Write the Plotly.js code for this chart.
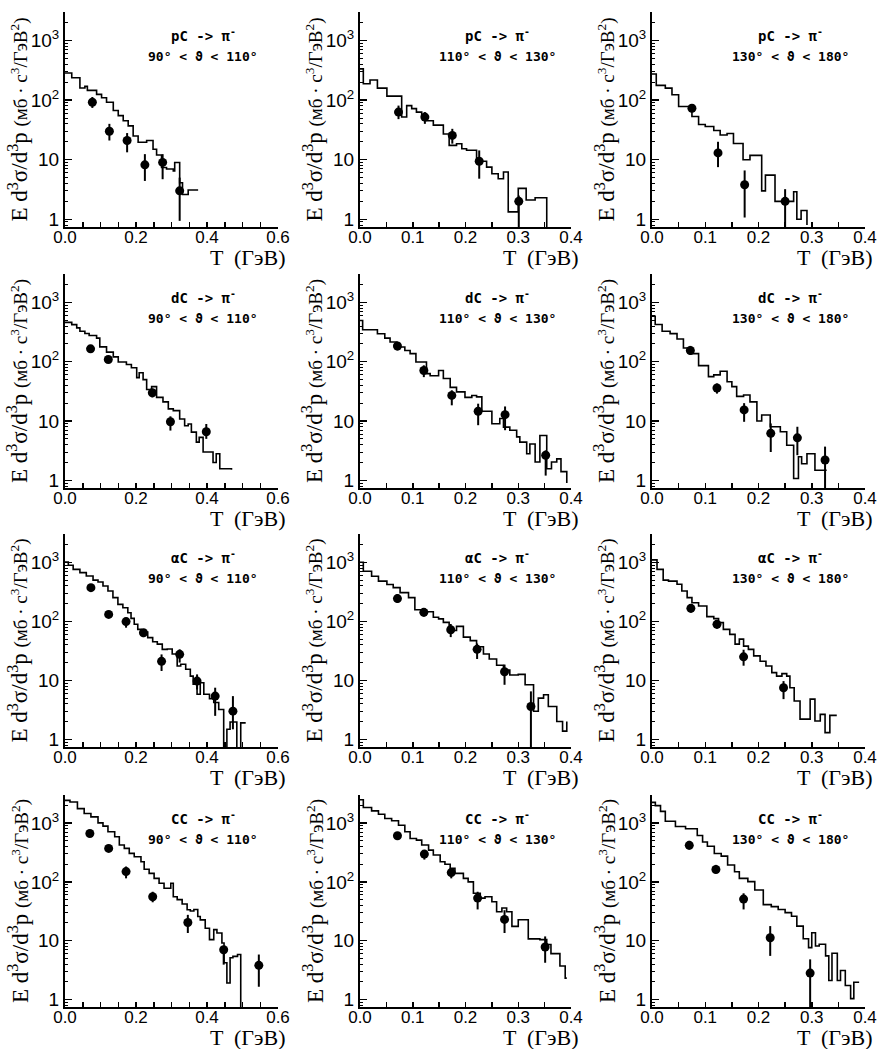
<!DOCTYPE html>
<html>
<head>
<meta charset="utf-8">
<script src="https://cdn.plot.ly/plotly-3.0.1.min.js"></script>
<style>body{margin:0;background:#fff}</style>
</head>
<body>
<div id="plot"></div>
<script>
// panel labels (rows: projectile, columns: angular cut)
var reactions = ["pC", "dC", "αC", "CC"];
var angleCuts = ["90° &lt; ϑ &lt; 110°", "110° &lt; ϑ &lt; 130°", "130° &lt; ϑ &lt; 180°"];

// y tick labels
var yTicks = [1, 10, 100, 1000];
var yTickText = ["1", "10", "10<sup>2</sup>", "10<sup>3</sup>"];

// simulated spectra: step edges (GeV) and level of each step (last = closing level)
var edges_pC_90 = [0, 0.019, 0.042, 0.056, 0.063, 0.089, 0.103, 0.117, 0.136, 0.150, 0.164, 0.178, 0.192, 0.206, 0.230, 0.248, 0.258, 0.272, 0.286, 0.305, 0.309, 0.323, 0.331, 0.347, 0.375];
var sim_pC_90 = [285, 238, 160, 170, 146, 125, 110, 92, 67, 55, 45, 37, 25, 19.6, 21, 15, 12, 7.4, 7.0, 6.5, 9.0, 4.1, 2.6, 3.1, 3.1];

var edges_pC_110 = [0, 0.0063, 0.019, 0.033, 0.051, 0.079, 0.0885, 0.098, 0.107, 0.117, 0.126, 0.139, 0.158, 0.169, 0.183, 0.193, 0.202, 0.221, 0.229, 0.240, 0.250, 0.262, 0.272, 0.281, 0.300, 0.315, 0.332, 0.354];
var sim_pC_110 = [335, 188, 218, 159, 117, 52, 81, 72, 63, 55, 45, 38, 27, 17.4, 18.5, 15.3, 14.4, 10.4, 9.4, 7.5, 5.8, 4.8, 6.2, 1.33, 3.3, 2.1, 2.3, 0.5];

var edges_pC_130 = [0, 0.008, 0.025, 0.0375, 0.050, 0.075, 0.0875, 0.100, 0.116, 0.128, 0.141, 0.153, 0.171, 0.184, 0.206, 0.213, 0.231, 0.266, 0.272, 0.280, 0.291];
var sim_pC_130 = [275, 177, 159, 123, 78, 53, 39, 36, 31, 26, 27.5, 18.7, 10, 11.8, 3.0, 5.5, 2.0, 2.9, 1.0, 1.4, 0.8];

var edges_dC_90 = [0, 0.019, 0.033, 0.042, 0.056, 0.068, 0.089, 0.098, 0.117, 0.136, 0.150, 0.173, 0.187, 0.202, 0.209, 0.220, 0.230, 0.244, 0.258, 0.276, 0.291, 0.305, 0.323, 0.337, 0.347, 0.356, 0.370, 0.378, 0.389, 0.417, 0.426, 0.436, 0.469];
var sim_dC_90 = [462, 423, 372, 326, 300, 277, 250, 178, 145, 121, 99, 90, 79, 54, 65, 50, 34, 38, 25, 21, 16, 15, 10.8, 8.3, 8.9, 6.5, 4.4, 5.3, 3.0, 2.0, 2.8, 1.57, 1.5];

var edges_dC_110 = [0, 0.005, 0.033, 0.047, 0.057, 0.070, 0.085, 0.095, 0.106, 0.126, 0.133, 0.149, 0.158, 0.171, 0.183, 0.199, 0.212, 0.221, 0.231, 0.250, 0.265, 0.272, 0.284, 0.297, 0.303, 0.316, 0.322, 0.332, 0.341, 0.354, 0.363, 0.373, 0.381, 0.392];
var sim_dC_110 = [497, 346, 296, 250, 215, 177, 155, 137, 99, 63, 58, 71, 52, 37, 31, 25, 27, 25.5, 14.6, 9, 11, 7.9, 7.0, 5.4, 4.4, 2.8, 4.1, 2.04, 5.7, 1.57, 2.04, 2.3, 1.4, 0.9];

var edges_dC_130 = [0, 0.006, 0.019, 0.034, 0.047, 0.059, 0.075, 0.0875, 0.106, 0.116, 0.128, 0.141, 0.150, 0.159, 0.172, 0.184, 0.197, 0.206, 0.222, 0.241, 0.253, 0.266, 0.275, 0.281, 0.291, 0.306, 0.328];
var sim_dC_130 = [585, 424, 327, 298, 242, 170, 137, 86, 56, 60, 69, 46, 38, 26, 27.5, 21, 10, 12.6, 8.0, 6.6, 3.9, 1.07, 2.5, 1.9, 2.8, 1.48, 1.48];

var edges_aC_90 = [0, 0.0093, 0.023, 0.042, 0.060, 0.079, 0.093, 0.107, 0.121, 0.135, 0.149, 0.163, 0.177, 0.186, 0.195, 0.205, 0.214, 0.225, 0.233, 0.247, 0.260, 0.274, 0.288, 0.302, 0.316, 0.326, 0.340, 0.353, 0.361, 0.372, 0.381, 0.391, 0.407, 0.419, 0.433, 0.447, 0.456, 0.465, 0.484, 0.495, 0.509];
var sim_aC_90 = [1014, 890, 760, 668, 587, 500, 464, 398, 327, 252, 194, 170, 140, 112, 89, 73, 63, 66, 53, 45, 41, 33.5, 34, 28, 17.5, 18.7, 15.4, 11.8, 8.6, 5.8, 9.1, 5.8, 4.9, 4.2, 3.2, 0.5, 1.48, 1.97, 0.5, 1.9, 1.9];

var edges_aC_110 = [0, 0.0063, 0.022, 0.035, 0.051, 0.063, 0.076, 0.092, 0.104, 0.117, 0.126, 0.139, 0.149, 0.158, 0.169, 0.183, 0.196, 0.209, 0.221, 0.234, 0.245, 0.259, 0.272, 0.284, 0.300, 0.313, 0.329, 0.338, 0.348, 0.357, 0.373, 0.384, 0.392];
var sim_aC_110 = [1000, 705, 582, 480, 422, 372, 306, 252, 157, 155, 145, 117, 110, 96, 70, 82, 54, 47, 37, 28, 23, 18, 14.9, 12.3, 12.6, 8.4, 3.0, 5.0, 5.7, 3.6, 2.0, 1.38, 2.0];

var edges_aC_130 = [0, 0.0094, 0.021, 0.031, 0.047, 0.056, 0.066, 0.075, 0.0875, 0.103, 0.116, 0.125, 0.134, 0.146, 0.156, 0.164, 0.172, 0.181, 0.191, 0.203, 0.214, 0.225, 0.234, 0.244, 0.253, 0.259, 0.267, 0.278, 0.297, 0.306, 0.316, 0.325, 0.334, 0.347];
var sim_aC_130 = [1100, 760, 500, 480, 424, 327, 252, 207, 182, 120, 111, 95, 73, 60, 41, 50, 38, 33.5, 26, 21, 17.5, 13.5, 11.8, 13, 11.8, 7.5, 4.45, 2.2, 4.8, 2.05, 2.65, 1.3, 2.55, 2.55];

var edges_CC_90 = [0, 0.014, 0.035, 0.054, 0.073, 0.093, 0.107, 0.121, 0.140, 0.153, 0.167, 0.181, 0.195, 0.214, 0.223, 0.237, 0.251, 0.265, 0.279, 0.298, 0.305, 0.316, 0.330, 0.344, 0.353, 0.363, 0.374, 0.381, 0.395, 0.407, 0.419, 0.428, 0.442, 0.448, 0.456, 0.465, 0.473, 0.486, 0.495];
var sim_CC_90 = [2450, 2300, 1770, 1460, 1280, 1014, 890, 713, 587, 424, 372, 306, 269, 221, 164, 140, 115, 95, 78, 95, 56, 50, 42, 33.5, 32, 34, 25.8, 22.6, 16.3, 10.4, 15.4, 13.5, 9.1, 4.2, 1.9, 5.1, 5.4, 5.8, 0.5];

var edges_CC_110 = [0, 0.0063, 0.022, 0.035, 0.047, 0.060, 0.073, 0.085, 0.095, 0.107, 0.117, 0.130, 0.139, 0.152, 0.161, 0.171, 0.180, 0.196, 0.205, 0.215, 0.228, 0.237, 0.250, 0.259, 0.269, 0.278, 0.288, 0.300, 0.319, 0.341, 0.354, 0.362, 0.379, 0.389, 0.392];
var sim_CC_110 = [2500, 1845, 1620, 1420, 1200, 1100, 925, 713, 550, 515, 424, 348, 287, 221, 200, 170, 140, 115, 100, 64, 53, 56, 46, 31, 36, 31, 17.5, 22.7, 10.7, 10.4, 8.6, 6.0, 3.7, 2.3, 2.3];

var edges_CC_130 = [0, 0.0063, 0.016, 0.025, 0.044, 0.063, 0.085, 0.095, 0.104, 0.117, 0.130, 0.142, 0.155, 0.164, 0.180, 0.193, 0.209, 0.224, 0.237, 0.250, 0.262, 0.272, 0.284, 0.294, 0.300, 0.307, 0.314, 0.326, 0.332, 0.338, 0.348, 0.354, 0.363, 0.373, 0.379, 0.389];
var sim_CC_130 = [2260, 1990, 1590, 1080, 880, 802, 617, 478, 404, 304, 275, 194, 149, 115, 101, 73, 41, 38, 34, 30, 26, 17.7, 10.8, 7.6, 13.6, 8.1, 8.7, 5.5, 2.1, 6.1, 2.1, 3.1, 1.72, 1.03, 1.96, 1.96];

// measured points: T, value, upper and lower end of error bar
var T_pC_90 = [0.077, 0.125, 0.175, 0.225, 0.275, 0.323];
var E_pC_90 = [92, 30, 21, 8.2, 9, 3.0];
var hi_pC_90 = [113, 40, 28, 12.4, 12.4, 5];
var lo_pC_90 = [74, 21, 13.3, 4.4, 4.7, 0.94];

var T_pC_110 = [0.073, 0.123, 0.175, 0.226, 0.301];
var E_pC_110 = [63, 52, 25.6, 9.4, 2.0];
var hi_pC_110 = [81, 63, 33, 14.3, 2.5];
var lo_pC_110 = [48, 40, 18.6, 4.8, 0.5];

var T_pC_130 = [0.075, 0.124, 0.174, 0.25];
var E_pC_130 = [73, 13, 3.8, 2.0];
var hi_pC_130 = [86, 20, 6.6, 3.2];
var lo_pC_130 = [63, 7.5, 1.07, 0.5];

var T_dC_90 = [0.072, 0.122, 0.246, 0.297, 0.398];
var E_dC_90 = [165, 109, 30, 9.7, 6.6];
var hi_dC_90 = [180, 124, 35, 12, 8.9];
var lo_dC_90 = [150, 96, 25, 6.9, 5];

var T_dC_110 = [0.071, 0.121, 0.174, 0.224, 0.275, 0.352];
var E_dC_110 = [184, 71, 27, 14.6, 12.8, 2.64];
var hi_dC_110 = [215, 87, 33, 19.6, 17.6, 3.2];
var lo_dC_110 = [155, 55, 18.4, 8.5, 7.0, 1.2];

var T_dC_130 = [0.072, 0.122, 0.173, 0.223, 0.273, 0.325];
var E_dC_130 = [155, 36, 15.4, 6.2, 5.2, 2.2];
var hi_dC_130 = [185, 43, 20, 9.1, 8, 3.7];
var lo_dC_130 = [130, 29, 9.7, 3.0, 2.65, 0.5];

var T_aC_90 = [0.073, 0.123, 0.172, 0.221, 0.272, 0.323, 0.372, 0.423, 0.473];
var E_aC_90 = [372, 131, 99, 64, 21, 27.6, 9.7, 5.4, 3.0];
var hi_aC_90 = [425, 150, 115, 74, 27.5, 33.5, 12.6, 7.5, 5.4];
var lo_aC_90 = [325, 115, 78, 54, 14.4, 20, 7, 2.5, 1.48];

var T_aC_110 = [0.071, 0.121, 0.172, 0.222, 0.274, 0.324];
var E_aC_110 = [243, 142, 72, 33.5, 14, 3.6];
var hi_aC_110 = [290, 165, 90, 42, 18.5, 6.5];
var lo_aC_110 = [205, 120, 54, 23, 8.4, 0.7];

var T_aC_130 = [0.073, 0.122, 0.172, 0.247];
var E_aC_130 = [166, 89, 25, 7.5];
var hi_aC_130 = [195, 105, 33, 9.7];
var lo_aC_130 = [140, 75, 17.7, 4.8];

var T_CC_90 = [0.07, 0.123, 0.172, 0.247, 0.346, 0.447, 0.546];
var E_CC_90 = [668, 372, 150, 56, 20.4, 7.0, 3.8];
var hi_CC_90 = [750, 420, 183, 68, 27.5, 8.0, 5.8];
var lo_CC_90 = [600, 330, 115, 45, 13.5, 3.9, 1.64];

var T_CC_110 = [0.071, 0.122, 0.173, 0.223, 0.274, 0.351];
var E_CC_110 = [610, 298, 144, 53, 23, 7.8];
var hi_CC_110 = [690, 350, 170, 68, 33, 11.8];
var lo_CC_110 = [520, 240, 115, 34, 13.5, 4.2];

var T_CC_130 = [0.07, 0.12, 0.172, 0.222, 0.297];
var E_CC_130 = [420, 163, 51, 11.2, 2.8];
var hi_CC_130 = [500, 195, 64, 17.7, 4.8];
var lo_CC_130 = [355, 140, 34, 5.5, 0.5];

var panels = [
  [edges_pC_90, sim_pC_90, T_pC_90, E_pC_90, hi_pC_90, lo_pC_90],
  [edges_pC_110, sim_pC_110, T_pC_110, E_pC_110, hi_pC_110, lo_pC_110],
  [edges_pC_130, sim_pC_130, T_pC_130, E_pC_130, hi_pC_130, lo_pC_130],
  [edges_dC_90, sim_dC_90, T_dC_90, E_dC_90, hi_dC_90, lo_dC_90],
  [edges_dC_110, sim_dC_110, T_dC_110, E_dC_110, hi_dC_110, lo_dC_110],
  [edges_dC_130, sim_dC_130, T_dC_130, E_dC_130, hi_dC_130, lo_dC_130],
  [edges_aC_90, sim_aC_90, T_aC_90, E_aC_90, hi_aC_90, lo_aC_90],
  [edges_aC_110, sim_aC_110, T_aC_110, E_aC_110, hi_aC_110, lo_aC_110],
  [edges_aC_130, sim_aC_130, T_aC_130, E_aC_130, hi_aC_130, lo_aC_130],
  [edges_CC_90, sim_CC_90, T_CC_90, E_CC_90, hi_CC_90, lo_CC_90],
  [edges_CC_110, sim_CC_110, T_CC_110, E_CC_110, hi_CC_110, lo_CC_110],
  [edges_CC_130, sim_CC_130, T_CC_130, E_CC_130, hi_CC_130, lo_CC_130]
];

var W = 877, H = 1049;
var colPx = [[65, 278], [360, 571], [652, 865]];
var rowPx = [[12, 227], [274, 488], [534, 747], [795, 1007]];
var xMax = [0.6, 0.4, 0.4];
var xStep = [0.2, 0.1, 0.1];

var minorY = [];
[0.1, 1, 10, 100, 1000].forEach(function (d) {
  for (var k = 2; k <= 9; k++) minorY.push(k * d);
});

var sans = "Liberation Sans, Arial, sans-serif";
var serif = "Liberation Serif, Times New Roman, serif";
var mono = "DejaVu Sans Mono, monospace";

var traces = [];
var layout = {
  width: W, height: H,
  margin: {l: 0, r: 0, t: 0, b: 0},
  paper_bgcolor: "white", plot_bgcolor: "white",
  showlegend: false,
  annotations: []
};

panels.forEach(function (p, i) {
  var r = Math.floor(i / 3), c = i % 3;
  var n = i === 0 ? "" : String(i + 1);

  traces.push({
    x: p[0], y: p[1], xaxis: "x" + n, yaxis: "y" + n,
    type: "scatter", mode: "lines",
    line: {shape: "hv", color: "black", width: 1.6}
  });
  traces.push({
    x: p[2], y: p[3], xaxis: "x" + n, yaxis: "y" + n,
    type: "scatter", mode: "markers",
    marker: {color: "black", size: 9},
    error_y: {
      type: "data", symmetric: false,
      array: p[4].map(function (h, j) { return h - p[3][j]; }),
      arrayminus: p[5].map(function (l, j) { return p[3][j] - l; }),
      color: "black", thickness: 2, width: 0
    }
  });

  layout["xaxis" + n] = {
    domain: [colPx[c][0] / W, colPx[c][1] / W], anchor: "y" + n,
    range: [0, xMax[c]], tick0: 0, dtick: xStep[c], tickformat: ".1f",
    showline: true, linecolor: "black", linewidth: 2,
    ticks: "inside", ticklen: 5, tickwidth: 1.5, tickcolor: "black",
    ticklabelstandoff: -6,
    showgrid: false, zeroline: false,
    tickfont: {family: sans, size: 17, color: "black"},
    minor: {ticks: "inside", ticklen: 5, tickwidth: 1.5, tickcolor: "black", tick0: 0, dtick: 0.05, showgrid: false}
  };
  layout["yaxis" + n] = {
    domain: [1 - rowPx[r][1] / H, 1 - rowPx[r][0] / H], anchor: "x" + n,
    type: "log", range: [-0.13, 3.48],
    tickmode: "array", tickvals: yTicks, ticktext: yTickText,
    showline: true, linecolor: "black", linewidth: 2,
    ticks: "inside", ticklen: 7, tickwidth: 1.5, tickcolor: "black",
    showgrid: false, zeroline: false,
    tickfont: {family: sans, size: 19, color: "black"},
    minor: {ticks: "inside", ticklen: 3, tickwidth: 1, tickcolor: "black", tickmode: "array", tickvals: minorY, showgrid: false}
  };

  var xr = "x" + n + " domain", yr = "y" + n + " domain";
  layout.annotations.push(
    {xref: xr, yref: yr, x: 0.65, y: 0.945, showarrow: false,
     text: "<b>" + reactions[r] + " -&gt; π<sup>-</sup></b>",
     font: {family: mono, size: 14, color: "black"}},
    {xref: xr, yref: yr, x: 0.65, y: 0.835, showarrow: false,
     text: "<b>" + angleCuts[c] + "</b>",
     font: {family: mono, size: 13, color: "black"}},
    {xref: xr, yref: yr, x: 1, y: 0, xshift: 10, yshift: -30,
     xanchor: "right", yanchor: "middle", showarrow: false,
     text: "T  (ГэВ)", font: {family: serif, size: 22, color: "black"}},
    {xref: xr, yref: yr, x: 0, y: 0.5, xshift: -47, textangle: -90,
     xanchor: "center", yanchor: "middle", showarrow: false,
     text: "E d<sup>3</sup>σ/d<sup>3</sup>p <span style='font-size:19px'>(мб · c<sup>3</sup>/ГэВ<sup>2</sup>)</span>",
     font: {family: serif, size: 23, color: "black"}}
  );
});

Plotly.newPlot("plot", traces, layout, {displayModeBar: false, staticPlot: true});
</script>
</body>
</html>
